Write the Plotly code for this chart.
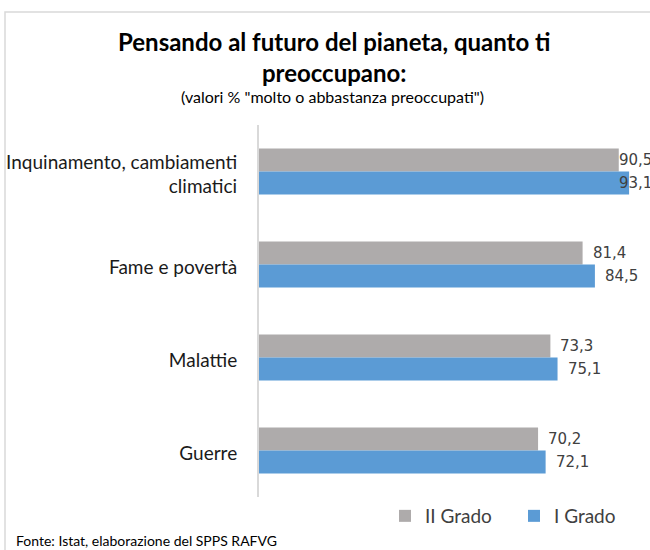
import plotly.graph_objects as go

categories = ["Inquinamento, cambiamenti<br>climatici", "Fame e povertà", "Malattie", "Guerre"]
series_names = ["II Grado", "I Grado"]
ii_grado = [90.5, 81.4, 73.3, 70.2]
i_grado = [93.1, 84.5, 75.1, 72.1]
colors = ["#AEABAB", "#5B9BD5"]

FW, FH = 650, 550
L, T, W, H = 259, 125, 386, 372
B = FH - T - H
R = FW - L - W
X_MAX = 97.1
BARGAP = 0.505
LABEL_ROOM = 9.0  # data labels are kept inside the chart area, as in the original

def px_x(px):
    return (px - L) / W

def px_y(py):
    return (T + H - py) / H

fig = go.Figure()
all_series = [ii_grado, i_grado]
for name, vals, col in zip(series_names, all_series, colors):
    fig.add_trace(go.Bar(
        y=categories, x=vals, name=name, orientation="h",
        marker=dict(color=col, line=dict(width=0)),
        textposition="none", hoverinfo="x+y+name",
    ))

# data labels (comma decimal), positioned from the values
bar_px = H / len(categories) * (1 - BARGAP) / len(all_series)
for si, vals in enumerate(all_series):
    shift = (len(all_series) - 1) / 2 * bar_px - si * bar_px
    for cat, v in zip(categories, vals):
        fig.add_annotation(
            x=min(v, X_MAX - LABEL_ROOM), y=cat, xref="x", yref="y",
            text=f"{v:.1f}".replace(".", ","), showarrow=False,
            xanchor="left", yanchor="middle", xshift=8, yshift=shift,
            font=dict(family="DejaVu Sans", size=15, color="#404040"),
        )

fig.update_layout(
    width=FW, height=FH,
    margin=dict(l=L, r=R, t=T, b=B, autoexpand=False),
    paper_bgcolor="white", plot_bgcolor="white",
    separators=",.",
    barmode="group", bargap=BARGAP, bargroupgap=0,
    font=dict(family="Lato", color="#000000"),
    showlegend=True,
    legend=dict(orientation="h", x=px_x(385), xanchor="left", y=px_y(516), yanchor="middle",
                font=dict(size=19, color="#404040"), traceorder="normal",
                itemwidth=30, entrywidth=84, bgcolor="rgba(0,0,0,0)"),
    xaxis=dict(range=[0, X_MAX], showgrid=False, showticklabels=False, zeroline=False,
               showline=False, fixedrange=True, automargin=False),
    yaxis=dict(autorange="reversed", showgrid=False, showline=True, linecolor="#D9D9D9",
               linewidth=2, ticks="", tickfont=dict(family="Lato", size=19, color="#1a1a1a"),
               ticklabelstandoff=16, ticklabelshift=-3, automargin=False, fixedrange=True),
)

fig.add_annotation(text="<b>Pensando al futuro del pianeta, quanto ti<br>preoccupano:</b>",
                   xref="paper", yref="paper", x=px_x(334), y=px_y(57), xanchor="center",
                   yanchor="middle", showarrow=False, align="center",
                   font=dict(family="Lato", size=24, color="#000000"))
fig.add_annotation(text='(valori % "molto o abbastanza preoccupati")',
                   xref="paper", yref="paper", x=px_x(332), y=px_y(96), xanchor="center",
                   yanchor="middle", showarrow=False,
                   font=dict(family="Lato", size=16, color="#000000"))
fig.add_annotation(text="Fonte: Istat, elaborazione del SPPS RAFVG",
                   xref="paper", yref="paper", x=px_x(14), y=px_y(540), xanchor="left",
                   yanchor="middle", showarrow=False,
                   font=dict(family="Lato", size=14, color="#000000"))

fig.add_shape(type="path", xref="paper", yref="paper",
              path=f"M {px_x(5)} {px_y(552)} L {px_x(5)} {px_y(12)} L {px_x(652)} {px_y(12)}",
              line=dict(color="#D9D9D9", width=1.5))

fig.write_html("out.html", config={"displayModeBar": False},
               post_script="document.body.style.margin='0';")
